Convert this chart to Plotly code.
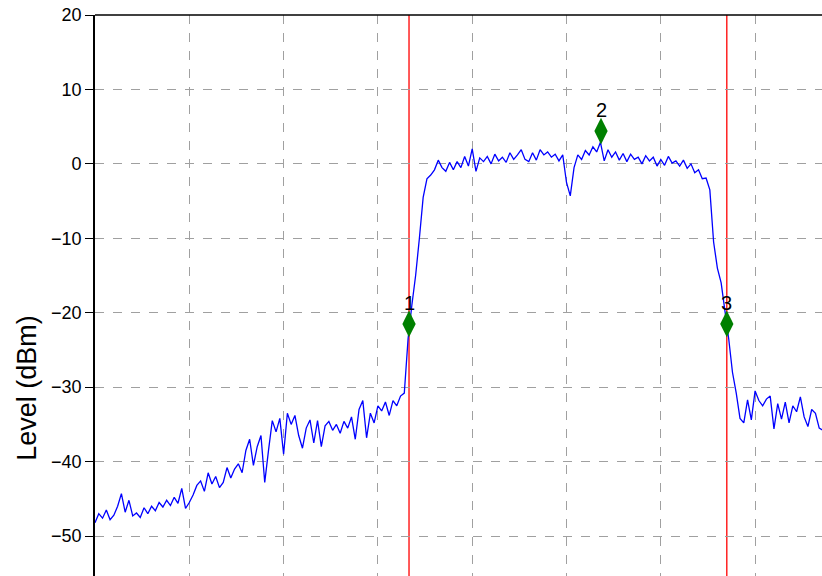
import numpy as np
import plotly.graph_objects as go

# Sweep: start frequency and step (MHz)
f_start = 2435.0
f_step = 0.04

# Trace levels (dBm)
level_dbm = [
    # 2435-2436
    -48.2, -47.0, -47.6, -46.5, -47.8, -47.2, -46.0, -44.3, -46.8, -45.2,
    -47.3, -46.9, -47.5, -46.2, -47.0, -46.0, -46.6, -45.5, -46.1, -45.2,
    -45.9, -44.8, -45.6, -43.6, -46.3,
    # 2436-2437
    -45.5, -44.5, -43.2, -42.6, -44.0, -41.5, -43.0, -42.0, -43.5, -42.8,
    -40.8, -42.2, -41.0, -40.3, -41.5, -38.5, -37.0, -40.5, -38.0, -36.5,
    -42.8, -38.5, -34.5, -36.0, -34.2,
    # 2437-2438
    -39.0, -33.5, -35.0, -33.8, -36.5, -38.2, -35.5, -34.4, -37.5, -34.5,
    -38.0, -35.2, -34.6, -35.8, -35.0, -36.2, -34.6, -35.5, -34.0, -37.0,
    -33.0, -31.8, -36.8, -33.5, -34.8,
    # 2438-2439
    -32.5, -33.2, -32.0, -33.8, -31.8, -32.5, -31.2, -30.8, -23.5, -19.0,
    -15.0, -10.0, -4.5, -2.0, -1.5, -0.8, 0.5, -0.5, -1.0, 0.2,
    -0.8, 0.3, -0.5, 1.0, -0.3,
    # 2439-2440
    2.0, -1.0, 0.8, 0.3, 1.0, 0.0, 1.3, 0.4, 0.9, 0.2,
    1.5, 0.6, 1.2, 1.9, 0.6, 0.3, 1.5, 0.5, 1.9, 1.2,
    1.6, 0.9, 1.3, 0.4, 1.2,
    # 2440-2441
    -2.5, -4.3, -0.5, 1.2, 0.6, 1.8, 1.2, 2.3, 1.6, 2.9,
    0.4, 1.9, 0.9, 1.6, 0.5, 1.4, 0.3, 1.3, 0.6, 0.9,
    0.0, 1.1, 0.4, 0.9, -0.3,
    # 2441-2442
    0.6, -0.2, 1.0, 0.1, 0.4, -0.3, 0.5, -0.6, 0.0, -1.2,
    -0.8, -2.0, -1.9, -3.5, -10.5, -14.0, -16.0, -19.5, -23.5, -28.0,
    -30.8, -34.2, -34.8, -31.7, -34.4,
    # 2442-2442.72
    -30.5, -31.8, -32.5, -31.6, -31.2, -35.6, -32.2, -34.3, -32.0, -34.8,
    -32.5, -33.3, -31.3, -34.0, -35.3, -33.0, -33.5, -35.5, -35.8,
]
freq_mhz = [f_start + f_step * i for i in range(len(level_dbm))]

# Markers
marker_labels = ["1", "2", "3"]
marker_freq = [2438.33, 2440.366, 2441.70]
marker_level = [-21.5, 4.4, -21.5]

# Axis ticks
y_ticks = [-50, -40, -30, -20, -10, 0, 10, 20]

font_family = "Liberation Sans, Arial, sans-serif"

fig = go.Figure()
fig.add_trace(go.Scatter(
    x=freq_mhz, y=level_dbm, mode="lines",
    line=dict(color="#0000ff", width=1.3), showlegend=False, hoverinfo="skip",
))
fig.add_trace(go.Scatter(
    x=marker_freq, y=marker_level, mode="markers",
    marker=dict(symbol="diamond-tall", size=19, color="#008000", line=dict(width=0)),
    showlegend=False, cliponaxis=False, hoverinfo="skip",
))
for lab, fx, fy in zip(marker_labels, marker_freq, marker_level):
    fig.add_annotation(
        x=fx, y=fy, text=lab, showarrow=False, xanchor="center", yanchor="bottom",
        yshift=8, font=dict(family=font_family, size=20, color="black"),
    )

# Red bandwidth lines at markers 1 and 3
for fx in (marker_freq[0], marker_freq[2]):
    fig.add_shape(type="line", xref="x", yref="paper", x0=fx, x1=fx, y0=0, y1=1,
                  line=dict(color="red", width=1.3), layer="below")

# Top spine
fig.add_shape(type="line", xref="paper", yref="paper", x0=0, x1=1, y0=1, y1=1,
              line=dict(color="black", width=1.6))

fig.add_annotation(
    text="Level (dBm)", xref="paper", yref="paper", x=-0.094, y=0.335,
    xanchor="center", yanchor="middle", textangle=-90, showarrow=False,
    font=dict(family=font_family, size=27, color="black"),
)

fig.update_xaxes(
    range=[f_start, f_start + 727 / 94.3], showticklabels=False, ticks="",
    showgrid=True, dtick=1, tick0=f_start, gridcolor="#a0a0a0", griddash="dash",
    gridwidth=0.8, zeroline=False, showline=False, automargin=False,
)
fig.update_yaxes(
    range=[-55.37, 20], tickvals=y_ticks, ticks="outside", ticklen=8, tickwidth=1.3,
    tickcolor="black", showline=True, linecolor="black", linewidth=1.6,
    showgrid=True, gridcolor="#a0a0a0", griddash="dash", gridwidth=0.8,
    zeroline=False, automargin=False, ticklabeloverflow="allow",
    tickfont=dict(family=font_family, size=18, color="black"),
)
# Plot area occupies window pixels x 95..822 and y 15..576 (page margin removed).
fig.update_layout(
    width=822, height=576, margin=dict(l=95, r=0, t=15, b=0, pad=0),
    plot_bgcolor="white", paper_bgcolor="white",
)
fig.write_html("out.html", config={"displayModeBar": False},
               post_script="document.body.style.margin='0';")
